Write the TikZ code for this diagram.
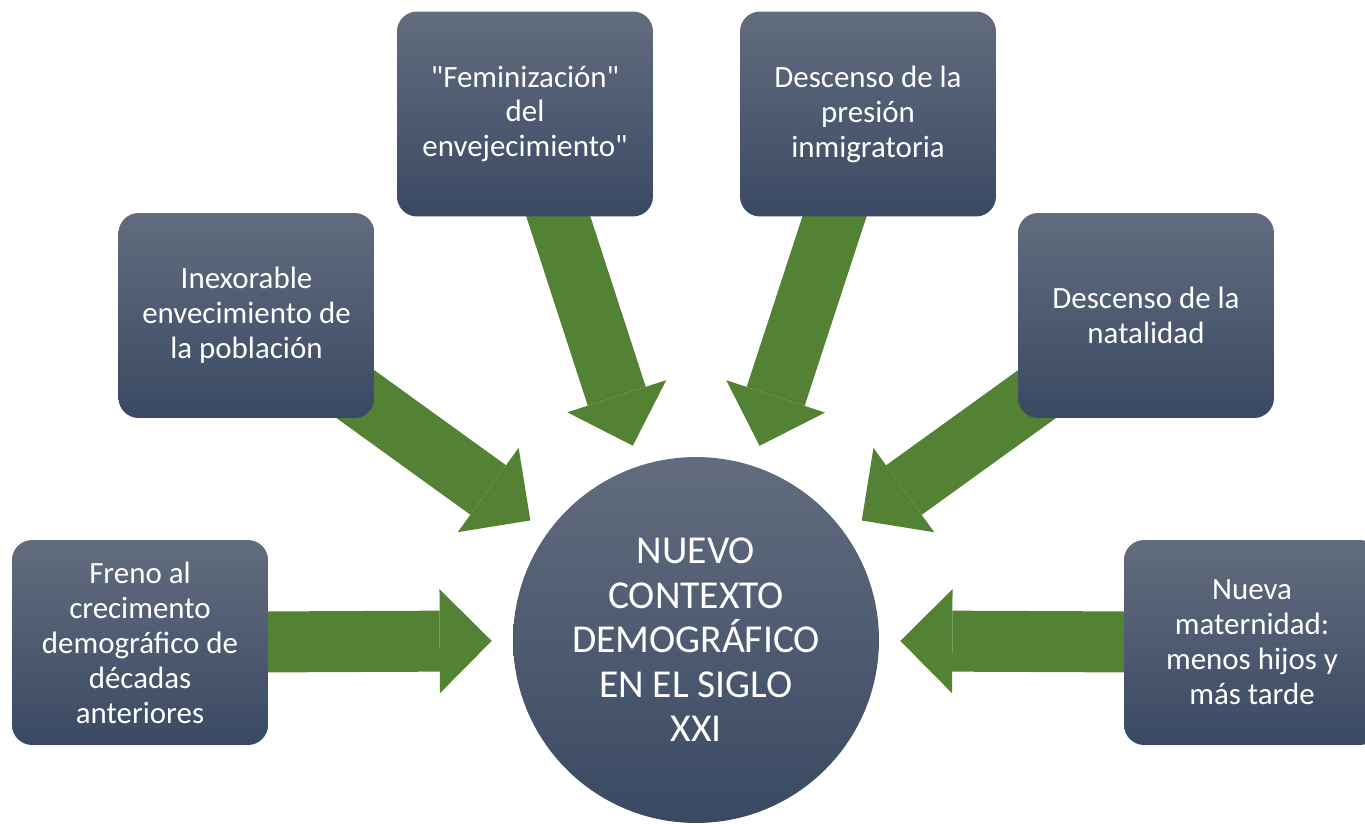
\documentclass[tikz,border=0pt]{standalone}
\usepackage{fontspec}
\setmainfont{Carlito}
\usepackage{xcolor}
\usepackage{tikz}
\usetikzlibrary{arrows.meta,backgrounds}
\definecolor{cajaarriba}{RGB}{98,108,126}
\definecolor{cajaabajo}{RGB}{58,73,99}
\definecolor{verde}{RGB}{84,130,53}

\begin{document}
\begin{tikzpicture}[x=0.02cm,y=0.02cm,
        caja/.style={rectangle,rounded corners=0.4cm,top color=cajaarriba,bottom color=cajaabajo,
                draw=none,text=white,align=center,minimum width=5.12cm,minimum height=4.1cm,
                inner sep=0pt,font=\fontsize{17.6}{19.9}\selectfont},
        nucleo/.style={circle,top color=cajaarriba,bottom color=cajaabajo,draw=none,text=white,
                align=center,minimum size=7.32cm,inner sep=0pt,font=\fontsize{22.5}{25.3}\selectfont},
        flecha/.style={verde,line width=1.22cm,shorten >=0.42cm,
                -{Triangle[length=1.04cm,width=2.08cm,line width=0pt]}}]
        %画边框
        \useasboundingbox (0,0) rectangle (1365,823);
        %中心圆
        \node[nucleo] (centro) at (696,183) {NUEVO\\CONTEXTO\\DEMOGRÁFICO\\EN EL SIGLO\\XXI};
        %六个方框
        \node[caja] (freno) at (140,180.5) {Freno al\\crecimento\\demográfico de\\décadas\\anteriores};
        \node[caja] (inexorable) at (246.5,507.5) {Inexorable\\envecimiento de\\la población};
        \node[caja] (feminizacion) at (525,709)
                {\textquotedbl Feminización\textquotedbl\\del\\envejecimiento\textquotedbl};
        \node[caja] (presion) at (868,709) {Descenso de la\\presión\\inmigratoria};
        \node[caja] (natalidad) at (1146,507.5) {Descenso de la\\natalidad};
        \node[caja] (maternidad) at (1252,180.5) {Nueva\\maternidad:\\menos hijos y\\más tarde};
        %画箭头
        \begin{scope}[on background layer]
                \foreach \n in {freno,inexorable,feminizacion,presion,natalidad,maternidad}
                        \draw[flecha] (\n.center) -- (centro);
        \end{scope}
\end{tikzpicture}
\end{document}
